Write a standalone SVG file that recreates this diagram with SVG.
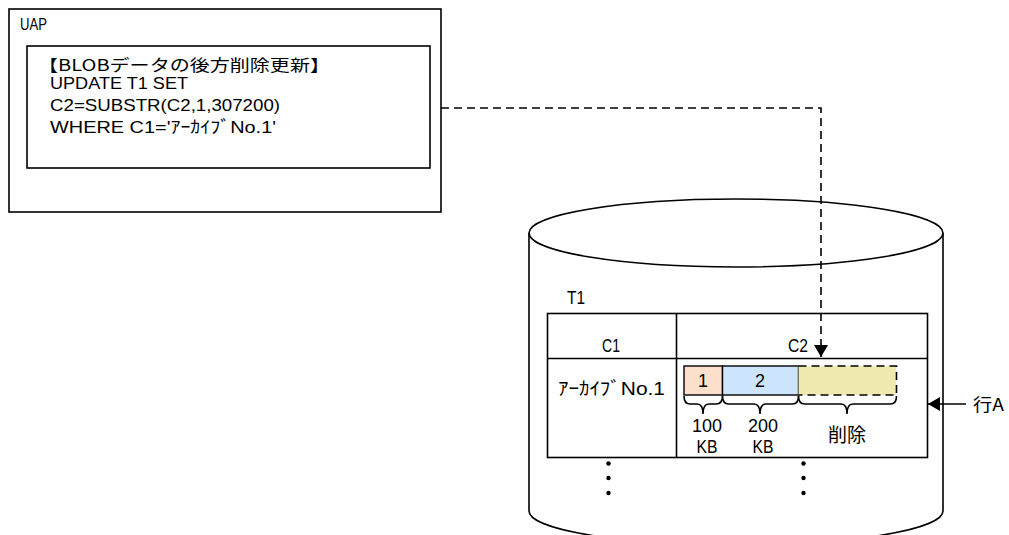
<svg xmlns="http://www.w3.org/2000/svg" width="1009" height="535" viewBox="0 0 1009 535">
<style>
.ln{fill:none;stroke:#000;stroke-width:1.6}
.bx{fill:#fff;stroke:#000;stroke-width:1.6}
.t{font-family:"Liberation Sans","Noto Sans CJK JP",sans-serif;font-size:17px;fill:#000}
.tb{font-family:"Liberation Sans","Noto Sans CJK JP",sans-serif;font-size:18px;fill:#000}
.j{font-family:"Noto Sans CJK JP",sans-serif;font-size:17px;fill:#000}
.c{text-anchor:middle}
.dash{fill:none;stroke:#000;stroke-width:1.6;stroke-dasharray:8 5}
</style>
<defs>
<marker id="ah" markerWidth="12" markerHeight="14" refX="12" refY="7" orient="auto" markerUnits="userSpaceOnUse">
<path d="M0,0 L12,7 L0,14 Z" fill="#000"/>
</marker>
</defs>
<g id="uap">
<rect class="bx" x="9" y="9" width="432" height="203"/>
<text class="t" x="20" y="30" textLength="27" lengthAdjust="spacingAndGlyphs">UAP</text>
<rect class="bx" x="27" y="46" width="403" height="122"/>
<text class="j" x="38" y="71" style="font-size:16px" textLength="292" lengthAdjust="spacingAndGlyphs">【BLOBデータの後方削除更新】</text>
<text class="t" x="50" y="89" textLength="138" lengthAdjust="spacingAndGlyphs">UPDATE T1 SET</text>
<text class="t" x="50" y="111" textLength="230" lengthAdjust="spacingAndGlyphs">C2=SUBSTR(C2,1,307200)</text>
<text class="t" x="50" y="133" textLength="226" lengthAdjust="spacingAndGlyphs">WHERE C1='ｱｰｶｲﾌﾞNo.1'</text>
</g>
<g id="db">
<path class="bx" d="M529 233 V511 A207 34 0 0 0 943 511 V233"/>
<ellipse class="bx" cx="736" cy="233" rx="207" ry="34"/>
<text class="tb" x="567" y="304" textLength="18" lengthAdjust="spacingAndGlyphs">T1</text>
</g>
<g id="table">
<rect class="ln" x="547.5" y="313.5" width="380" height="144"/>
<line class="ln" x1="676.5" y1="313.5" x2="676.5" y2="457.5"/>
<line class="ln" x1="547.5" y1="358.5" x2="927.5" y2="358.5"/>
<text class="tb" x="602" y="352" textLength="18" lengthAdjust="spacingAndGlyphs">C1</text>
<text class="tb" x="788" y="352" textLength="20" lengthAdjust="spacingAndGlyphs">C2</text>
<text class="tb" x="558" y="395" textLength="107" lengthAdjust="spacingAndGlyphs">ｱｰｶｲﾌﾞNo.1</text>
</g>
<g id="blob">
<rect x="684" y="366" width="38.5" height="29" fill="#FCE0CC" stroke="#000" stroke-width="1.4"/>
<rect x="722.5" y="366" width="76" height="29" fill="#CCE4FC" stroke="#000" stroke-width="1.4"/>
<rect x="798.5" y="366" width="98" height="29" fill="#F0EAB0"/>
<path class="dash" d="M798.5 366 H896.5 V395 H798.5"/>
<text class="tb c" x="703" y="387">1</text>
<text class="tb c" x="760" y="387">2</text>
<path class="ln" d="M684 396 Q684 404 690 404 L697 404 Q703 404 703 414 Q703 404 709 404 L716 404 Q722.5 404 722.5 396"/>
<path class="ln" d="M722.5 396 Q722.5 404 728.5 404 L754 404 Q760 404 760 414 Q760 404 766 404 L792.5 404 Q798.5 404 798.5 396"/>
<path class="ln" d="M798.5 396 Q798.5 404 804.5 404 L841 404 Q847 404 847 414 Q847 404 853 404 L890.5 404 Q896.5 404 896.5 396"/>
<text class="tb c" x="707" y="432" style="font-size:19px" textLength="30" lengthAdjust="spacingAndGlyphs">100</text>
<text class="tb c" x="707" y="453" style="font-size:19px" textLength="21" lengthAdjust="spacingAndGlyphs">KB</text>
<text class="tb c" x="763" y="432" style="font-size:19px" textLength="30" lengthAdjust="spacingAndGlyphs">200</text>
<text class="tb c" x="763" y="453" style="font-size:19px" textLength="21" lengthAdjust="spacingAndGlyphs">KB</text>
<text class="j c" x="847" y="442" style="font-size:19px">削除</text>
</g>
<g id="dots">
<circle cx="608.5" cy="463.5" r="2.2"/>
<circle cx="608.5" cy="478" r="2.2"/>
<circle cx="608.5" cy="493" r="2.2"/>
<circle cx="803.5" cy="463.5" r="2.2"/>
<circle cx="803.5" cy="478" r="2.2"/>
<circle cx="803.5" cy="493" r="2.2"/>
</g>
<g id="rowA">
<text class="j" x="973" y="411" textLength="31" lengthAdjust="spacingAndGlyphs">行A</text>
</g>
<g id="connectors">
<path class="dash" d="M441 108 H821 V357" marker-end="url(#ah)"/>
<line class="ln" x1="966" y1="404" x2="928" y2="404" marker-end="url(#ah)"/>
</g>
</svg>
